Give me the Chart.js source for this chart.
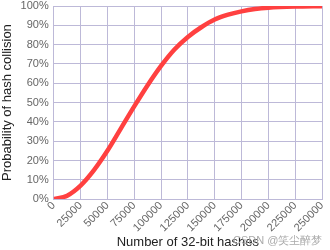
<!DOCTYPE html>
<html lang="en">
<head>
  <meta charset="UTF-8">
  <title>Hash Collision Probability</title>
  <script src="https://cdn.jsdelivr.net/npm/chart.js"></script>
  <style>
    body { margin: 0; background: #fff; }
    #wrap { position: relative; width: 330px; height: 250px; }
    #mark {
      position: absolute; left: 233px; top: 233px; white-space: nowrap;
      font: 11px "Liberation Sans", Arial, sans-serif; color: #aaa;
    }
  </style>
</head>
<body>
<div id="wrap">
  <canvas id="chart" width="330" height="250"></canvas>
  <span id="mark">CSDN @笑尘醉梦</span>
</div>

<script>
  // number of hashes and the collision probability (%)
  const hashes = [0, 12500, 25000, 37500, 50000, 62500, 75000, 87500, 100000, 112500,
    125000, 137500, 150000, 162500, 175000, 187500, 200000, 225000, 250000];
  const probability = [0, 1.8, 7, 15, 25, 36.5, 48, 59, 69, 77.5,
    84, 89, 93, 95.5, 97.2, 98.4, 99.1, 99.7, 99.9];

  const gridColor = '#bdb9d8';

  new Chart(document.getElementById('chart'), {
    type: 'line',
    data: {
      datasets: [{
        data: hashes.map((x, i) => ({ x: x, y: probability[i] })),
        borderColor: '#ff4040',
        borderWidth: 4.5,
        pointRadius: 0,
        cubicInterpolationMode: 'monotone'
      }]
    },
    options: {
      responsive: false,
      animation: false,
      layout: { padding: { top: 6, right: 8, left: 0 } },
      plugins: { legend: { display: false }, tooltip: { enabled: false } },
      scales: {
        x: {
          type: 'linear',
          min: 0,
          max: 250000,
          afterFit: s => { s.paddingLeft = 0; s.paddingRight = 0; },
          grid: { color: gridColor, drawTicks: false },
          border: { color: gridColor },
          ticks: {
            stepSize: 25000,
            maxRotation: 45,
            minRotation: 45,
            padding: 0,
            color: '#666',
            font: { family: 'Liberation Sans', size: 11 },
            callback: v => String(v)
          },
          title: {
            display: true,
            text: 'Number of 32-bit hashes',
            color: '#222',
            padding: 0,
            font: { family: 'Liberation Sans', size: 13 }
          }
        },
        y: {
          min: 0,
          max: 100,
          afterFit: s => { s.paddingTop = 0; s.paddingBottom = 0; },
          grid: { color: gridColor, drawTicks: false },
          border: { color: gridColor },
          ticks: {
            stepSize: 10,
            padding: 5,
            color: '#666',
            font: { family: 'Liberation Sans', size: 11 },
            callback: v => v + '%'
          },
          title: {
            display: true,
            text: 'Probability of hash collision',
            color: '#222',
            padding: 0,
            font: { family: 'Liberation Sans', size: 13 }
          }
        }
      }
    }
  });
</script>
</body>
</html>
